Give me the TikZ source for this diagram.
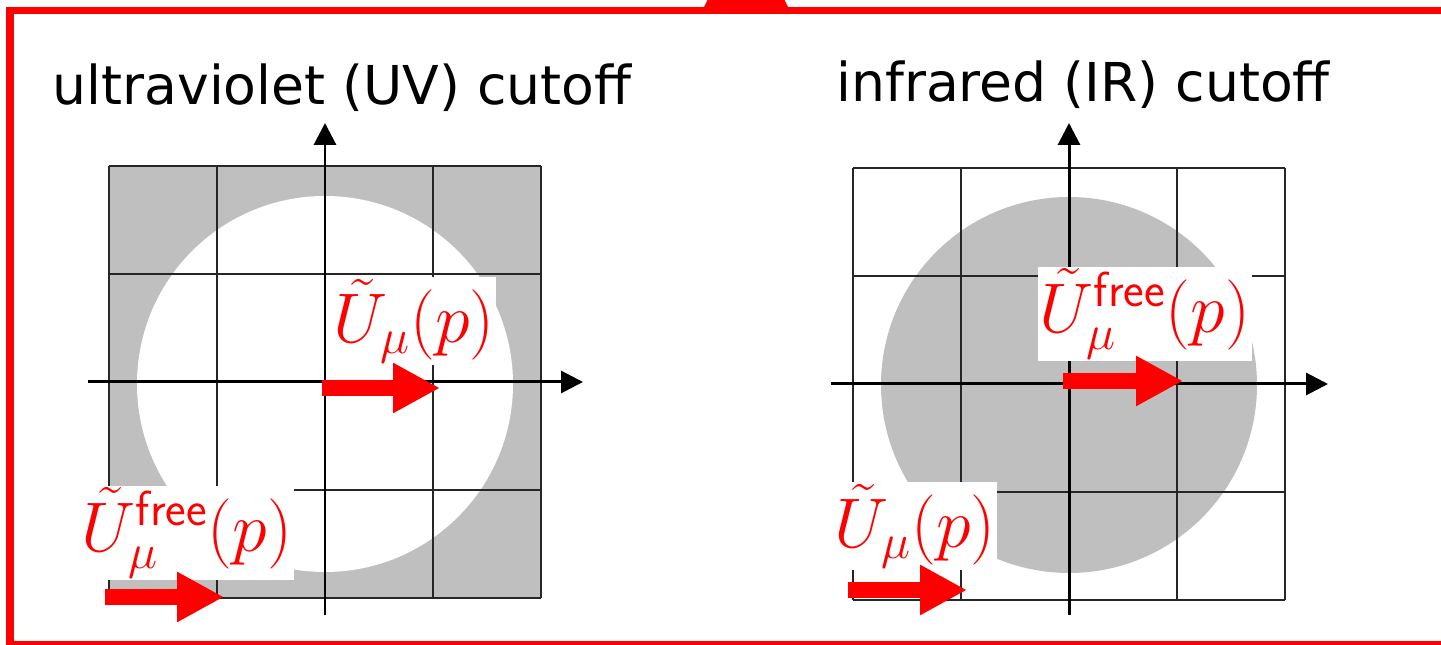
\RequirePackage{fix-cm}
\documentclass[tikz,border=0pt]{standalone}
\usepackage{fontspec}
\newfontfamily\titlefont{DejaVu Sans}
\usepackage{tikz}
\usetikzlibrary{arrows.meta}

\begin{document}
\begin{tikzpicture}[
  x=0.02cm, y=0.02cm,
  gridline/.style={line width=0.8pt,black!85},
  axis/.style={line width=1.7pt,-{Triangle[length=0.44cm,width=0.44cm]}},
  shade/.style={fill=black!25},
  sym/.style={fill=white,text=red,inner sep=1pt,font=\fontsize{40}{44}\selectfont},
  bigarrow/.style={red,line width=0.32cm,-{Triangle[length=0.94cm,width=0.94cm]}},
  title/.style={anchor=base,inner sep=0pt,font=\titlefont\fontsize{30.5}{34}\selectfont}
]
  \useasboundingbox (0,0) rectangle (1441,645);
  \clip (0,0) rectangle (1441,645);

  % frame
  \fill[red] (702,634) -- (716,662) -- (776,662) -- (790,634) -- cycle;
  \draw[red,line width=0.15cm] (1470,634.5) -- (10,634.5) -- (10,0.5) -- (1470,0.5);

  \node[title] (uvtitle) at (342,540) {ultraviolet (UV) cutoff};
  \node[title] (irtitle) at (1083,543) {infrared (IR) cutoff};

  \begin{scope}[shift={(325,263)}]
    \fill[shade] (-216,-216) rectangle (216,216);
    \fill[white] (0,-2) circle (188);
    \foreach \g in {-216,-108,0,108,216} {
      \draw[gridline] (\g,-216) -- (\g,216);
      \draw[gridline] (-216,\g) -- (216,\g);
    }
    \coordinate (uvW) at (-237,0);
    \coordinate (uvE) at (258,0);
    \coordinate (uvS) at (0,-233);
    \coordinate (uvN) at (0,259);
    \draw[axis] (uvW) -- (uvE);
    \draw[axis] (uvS) -- (uvN);
    \node[sym] (uvU) at (89,61) {$\tilde U_\mu(p)$};
    \node[sym] (uvUfree) at (-138,-151) {$\tilde U^{\mathsf{free}}_\mu(p)$};
    \coordinate (uvA) at (-3,-6);
    \coordinate (uvB) at (115,-6);
    \coordinate (uvC) at (-220,-215);
    \coordinate (uvD) at (-101,-215);
    \draw[bigarrow] (uvA) -- (uvB);
    \draw[bigarrow] (uvC) -- (uvD);
  \end{scope}

  \begin{scope}[shift={(1069,261)}]
    \fill[shade] (0,-1) circle (188);
    \foreach \g in {-216,-108,0,108,216} {
      \draw[gridline] (\g,-216) -- (\g,216);
      \draw[gridline] (-216,\g) -- (216,\g);
    }
    \coordinate (irW) at (-238,0);
    \coordinate (irE) at (259,0);
    \coordinate (irS) at (0,-231);
    \coordinate (irN) at (0,261);
    \draw[axis] (irW) -- (irE);
    \draw[axis] (irS) -- (irN);
    \node[sym] (irUfree) at (76,70) {$\tilde U^{\mathsf{free}}_\mu(p)$};
    \node[sym] (irU) at (-154,-142) {$\tilde U_\mu(p)$};
    \coordinate (irA) at (-6,3);
    \coordinate (irB) at (114,3);
    \coordinate (irC) at (-221,-206);
    \coordinate (irD) at (-102,-206);
    \draw[bigarrow] (irA) -- (irB);
    \draw[bigarrow] (irC) -- (irD);
  \end{scope}
\end{tikzpicture}
\end{document}
